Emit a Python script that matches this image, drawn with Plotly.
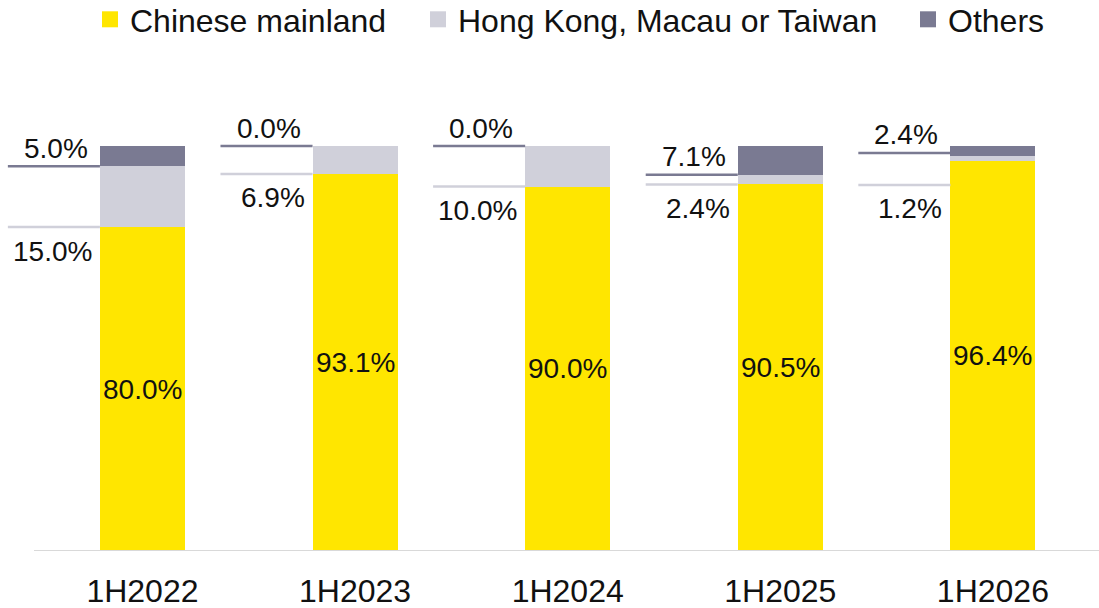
import plotly.graph_objects as go

categories = ["1H2022", "1H2023", "1H2024", "1H2025", "1H2026"]
mainland = [80.0, 93.1, 90.0, 90.5, 96.4]
hk_mo_tw = [15.0, 6.9, 10.0, 2.4, 1.2]
others = [5.0, 0.0, 0.0, 7.1, 2.4]

series_names = ["Chinese mainland", "Hong Kong, Macau or Taiwan", "Others"]

# styling
YELLOW = "#FFE600"
LIGHT = "#D0D0DA"
DARK = "#7A7A92"
FONT = "Liberation Sans"
TXT = "#111111"
BAR_W = 0.4
LINE_LEN = 0.433
# manual leader-line shifts (percentage points) as in the original layout
hk_line_shift = [0, 0, 0, 0, -6.0]
ot_line_shift = [0, 0, 0, 0, 0.7]
legend_ids = ["legend", "legend2", "legend3"]
legend_x_px = [90, 418, 908]

fig = go.Figure()
colors = [YELLOW, LIGHT, DARK]
for name, vals, col in zip(series_names, [mainland, hk_mo_tw, others], colors):
    fig.add_trace(go.Bar(x=list(range(len(categories))), y=vals, name=name,
                         marker=dict(color=col, line=dict(width=0)),
                         width=BAR_W, showlegend=False, hoverinfo="skip"))
for name, col, lg in zip(series_names, colors, legend_ids):
    fig.add_trace(go.Scatter(x=[None], y=[None], mode="markers", name=name, legend=lg,
                             marker=dict(symbol="square", size=16, color=col),
                             showlegend=True))

shapes = []
annotations = []
for i in range(len(categories)):
    left = i - BAR_W / 2
    hk_y = mainland[i] + hk_line_shift[i]
    ot_y = mainland[i] + hk_mo_tw[i] + ot_line_shift[i]
    shapes.append(dict(type="line", xref="x", yref="y", x0=left - LINE_LEN, x1=left,
                       y0=hk_y, y1=hk_y, line=dict(color=LIGHT, width=2.5)))
    shapes.append(dict(type="line", xref="x", yref="y", x0=left - LINE_LEN, x1=left,
                       y0=ot_y, y1=ot_y, line=dict(color=DARK, width=2.5)))
    annotations.append(dict(x=left, y=ot_y, xref="x", yref="y", text=f"{others[i]:.1f}%",
                            showarrow=False, xanchor="right", yanchor="middle",
                            xshift=-10, yshift=18, font=dict(family=FONT, size=28, color=TXT)))
    annotations.append(dict(x=left, y=hk_y, xref="x", yref="y", text=f"{hk_mo_tw[i]:.1f}%",
                            showarrow=False, xanchor="right", yanchor="middle",
                            xshift=-6, yshift=-24, font=dict(family=FONT, size=28, color=TXT)))
    annotations.append(dict(x=i, y=mainland[i] / 2, xref="x", yref="y", text=f"{mainland[i]:.1f}%",
                            showarrow=False, xanchor="center", yanchor="middle",
                            font=dict(family=FONT, size=28, color=TXT)))

# baseline axis line
shapes.append(dict(type="line", xref="x", yref="y", x0=-0.51, x1=4.5, y0=0, y1=0,
                   line=dict(color="#D9D9D9", width=2)))

W, H = 1099, 608
B = 57
legend_layout = {}
for lg, px in zip(legend_ids, legend_x_px):
    legend_layout[lg] = dict(orientation="h", x=px / W, xanchor="left",
                             y=1 + 8 / (H - B), yanchor="top",
                             font=dict(family=FONT, size=32, color=TXT),
                             bgcolor="rgba(0,0,0,0)", borderwidth=0)

fig.update_layout(
    barmode="stack",
    width=W, height=H,
    margin=dict(l=0, r=0, t=0, b=B, autoexpand=False),
    paper_bgcolor="white", plot_bgcolor="white",
    shapes=shapes, annotations=annotations,
    xaxis=dict(range=[-0.670, 4.499], tickmode="array", tickvals=list(range(len(categories))),
               ticktext=categories, showgrid=False, zeroline=False, showline=False,
               ticks="", ticklabelstandoff=18, automargin=False,
               tickfont=dict(family=FONT, size=32, color=TXT), fixedrange=True),
    yaxis=dict(range=[0, 136.05], visible=False, fixedrange=True, automargin=False),
    showlegend=True,
    **legend_layout,
)

fig.write_html("out.html", config={"displayModeBar": False},
               post_script="document.body.style.margin='0';document.body.style.overflow='hidden';")
